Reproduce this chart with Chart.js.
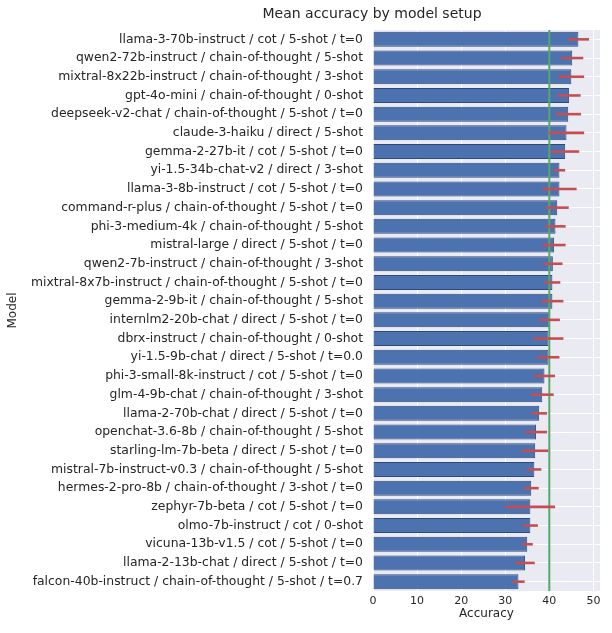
<!DOCTYPE html>
<html><head><meta charset="utf-8">
<script src="https://cdn.jsdelivr.net/npm/chart.js@4.4.1/dist/chart.umd.min.js"></script>
<style>html,body{margin:0;padding:0;background:#fff}#wrap{width:612px;height:633px;position:relative}</style>
</head><body>
<div id="wrap"><canvas id="c"></canvas></div>
<script>
const chartTitle = "Mean accuracy by model setup";
const yAxisTitle = "Model";
const xAxisTitle = "Accuracy";
const categories = [
  "llama-3-70b-instruct / cot / 5-shot / t=0",
  "qwen2-72b-instruct / chain-of-thought / 5-shot",
  "mixtral-8x22b-instruct / chain-of-thought / 3-shot",
  "gpt-4o-mini / chain-of-thought / 0-shot",
  "deepseek-v2-chat / chain-of-thought / 5-shot / t=0",
  "claude-3-haiku / direct / 5-shot",
  "gemma-2-27b-it / cot / 5-shot / t=0",
  "yi-1.5-34b-chat-v2 / direct / 3-shot",
  "llama-3-8b-instruct / cot / 5-shot / t=0",
  "command-r-plus / chain-of-thought / 5-shot / t=0",
  "phi-3-medium-4k / chain-of-thought / 5-shot",
  "mistral-large / direct / 5-shot / t=0",
  "qwen2-7b-instruct / chain-of-thought / 3-shot",
  "mixtral-8x7b-instruct / chain-of-thought / 5-shot / t=0",
  "gemma-2-9b-it / chain-of-thought / 5-shot",
  "internlm2-20b-chat / direct / 5-shot / t=0",
  "dbrx-instruct / chain-of-thought / 0-shot",
  "yi-1.5-9b-chat / direct / 5-shot / t=0.0",
  "phi-3-small-8k-instruct / cot / 5-shot / t=0",
  "glm-4-9b-chat / chain-of-thought / 3-shot",
  "llama-2-70b-chat / direct / 5-shot / t=0",
  "openchat-3.6-8b / chain-of-thought / 5-shot",
  "starling-lm-7b-beta / direct / 5-shot / t=0",
  "mistral-7b-instruct-v0.3 / chain-of-thought / 5-shot",
  "hermes-2-pro-8b / chain-of-thought / 3-shot / t=0",
  "zephyr-7b-beta / cot / 5-shot / t=0",
  "olmo-7b-instruct / cot / 0-shot",
  "vicuna-13b-v1.5 / cot / 5-shot / t=0",
  "llama-2-13b-chat / direct / 5-shot / t=0",
  "falcon-40b-instruct / chain-of-thought / 5-shot / t=0.7"
];
const values = [46.6, 45.2, 45.0, 44.5, 44.3, 43.9, 43.6, 42.3, 42.3, 41.8,
                41.4, 41.1, 40.8, 40.7, 40.7, 40.1, 39.8, 39.8, 38.9, 38.4,
                37.7, 37.0, 36.8, 36.6, 35.9, 35.7, 35.7, 35.0, 34.5, 33.0];
const errors = [2.4, 2.5, 2.9, 2.6, 2.9, 4.0, 3.2, 1.3, 3.9, 2.6,
                2.3, 2.6, 2.2, 1.8, 2.5, 2.3, 3.4, 2.5, 2.4, 2.6,
                1.8, 2.5, 3.0, 1.6, 1.7, 5.6, 1.7, 1.25, 2.2, 1.4];
const xTickValues = [0, 10, 20, 30, 40, 50];
const referenceValue = 40;
const xMax = 51.5;

const TEXT = '#262626';
const FONT = "'DejaVu Sans', sans-serif";

const bgPlugin = {
  id: 'bg',
  beforeDraw(chart) {
    const {ctx, chartArea: a} = chart;
    ctx.save();
    ctx.fillStyle = '#EAEAF2';
    ctx.fillRect(a.left, a.top, a.right - a.left, a.bottom - a.top);
    ctx.restore();
  }
};
const overlayPlugin = {
  id: 'overlay',
  afterDatasetsDraw(chart) {
    const {ctx, chartArea: a, scales: {x}} = chart;
    const meta = chart.getDatasetMeta(0);
    ctx.save();
    const gx = x.getPixelForValue(referenceValue);
    ctx.strokeStyle = '#55A868';
    ctx.lineWidth = 2;
    ctx.beginPath();
    ctx.moveTo(gx, a.top);
    ctx.lineTo(gx, a.bottom);
    ctx.stroke();
    ctx.strokeStyle = '#C44E52';
    ctx.lineWidth = 2.6;
    ctx.lineCap = 'butt';
    values.forEach((v, i) => {
      const y = meta.data[i].y;
      ctx.beginPath();
      ctx.moveTo(x.getPixelForValue(v - errors[i]), y);
      ctx.lineTo(x.getPixelForValue(v + errors[i]), y);
      ctx.stroke();
    });
    ctx.restore();
  },
  afterDraw(chart) {
    const {ctx} = chart;
    ctx.save();
    ctx.fillStyle = TEXT;
    ctx.font = "14px " + FONT;
    ctx.textAlign = 'center';
    ctx.textBaseline = 'middle';
    ctx.fillText(chartTitle, 372, 14);
    ctx.restore();
  }
};

new Chart(document.getElementById('c'), {
  type: 'bar',
  data: {
    labels: categories,
    datasets: [{
      data: values,
      backgroundColor: '#4C72B0',
      borderColor: '#2E4A78',
      borderWidth: 1,
      barPercentage: 0.8,
      categoryPercentage: 1.0
    }]
  },
  options: {
    indexAxis: 'y',
    responsive: true,
    maintainAspectRatio: false,
    devicePixelRatio: 1,
    animation: false,
    layout: {padding: {top: 30, right: 12, left: 0, bottom: 0}},
    plugins: {legend: {display: false}, tooltip: {enabled: false}, title: {display: false}},
    scales: {
      x: {
        type: 'linear',
        min: 0,
        max: xMax,
        afterBuildTicks(scale) { scale.ticks = xTickValues.map(v => ({value: v})); },
        afterFit(scale) { scale.height = 42; },
        grid: {color: '#FFFFFF', lineWidth: 1, drawTicks: false},
        border: {display: false},
        ticks: {color: TEXT, font: {family: FONT, size: 11}, padding: 4},
        title: {display: true, text: xAxisTitle, color: TEXT, font: {family: FONT, size: 12}, padding: {top: 0, bottom: 12}}
      },
      y: {
        afterFit(scale) { scale.width = 373; },
        grid: {color: '#FFFFFF', lineWidth: 1, drawTicks: false, offset: false},
        border: {display: false},
        ticks: {color: TEXT, font: {family: FONT, size: 12.4}, padding: 10, autoSkip: false},
        title: {display: true, text: yAxisTitle, color: TEXT, font: {family: FONT, size: 12}, padding: {top: 6, bottom: 0}}
      }
    }
  },
  plugins: [bgPlugin, overlayPlugin]
});
</script>
</body></html>
